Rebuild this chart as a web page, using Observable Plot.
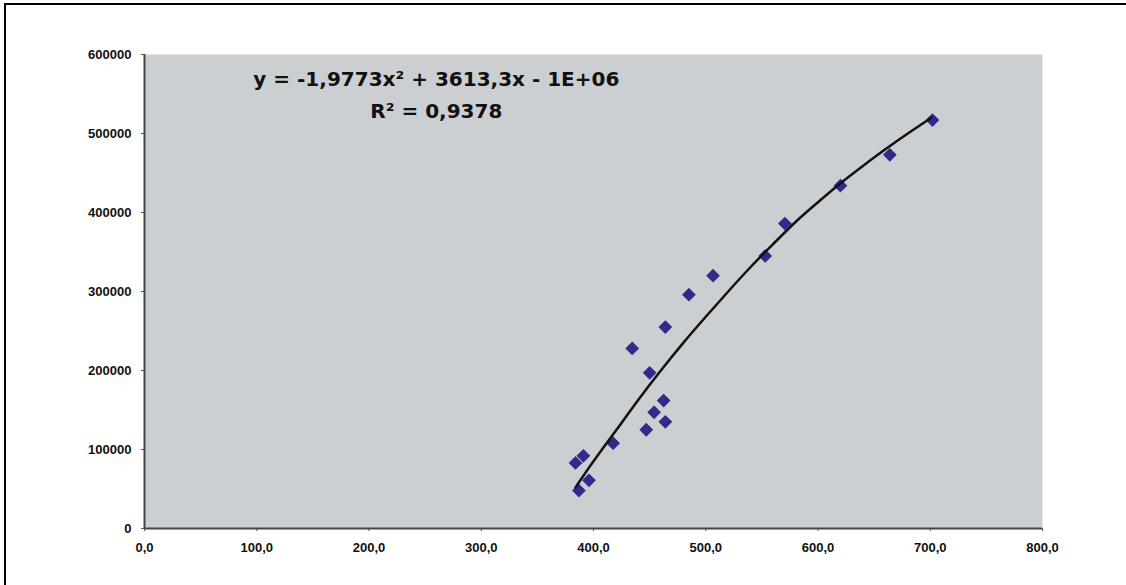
<!DOCTYPE html>
<html>
<head>
<meta charset="utf-8">
<script src="https://cdn.jsdelivr.net/npm/d3@7"></script>
<script src="https://cdn.jsdelivr.net/npm/@observablehq/plot@0.6"></script>
<style>
  html, body { margin: 0; padding: 0; background: #fff; }
  #wrap { position: relative; width: 1126px; height: 585px; overflow: hidden; }
  #border { position: absolute; left: 4px; top: 3px; width: 1200px; height: 700px;
            border-left: 2px solid #000; border-top: 2px solid #000; pointer-events: none; }
  #chart { position: absolute; left: 0; top: 0; }
</style>
</head>
<body>
<div id="wrap"><div id="chart"></div><div id="border"></div></div>
<script>
// Observed data points (x, y)
const pointX = [387, 396, 384, 391, 417.5, 447, 464, 454, 462.5, 450, 434.5, 464, 485, 506.5, 553, 570.5, 620, 664, 702];
const pointY = [48000, 61000, 83000, 92000, 108000, 125000, 135000, 147000, 162000, 197000, 228000, 255000, 296000, 320000, 345000, 386000, 434000, 473000, 517000];

// Polynomial trend line
const trendX = [384, 400, 420, 440, 460, 480, 500, 520, 540, 560, 580, 600, 620, 640, 660, 680, 701];
const trendY = [52000, 85000, 124000, 163000, 200000, 235000, 268000, 300000, 331000, 360000, 388000, 413000, 437000, 459000, 480000, 500000, 520000];

// Axis ticks and labels
const xTicks = [0, 100, 200, 300, 400, 500, 600, 700, 800];
const xTickLabels = ["0,0", "100,0", "200,0", "300,0", "400,0", "500,0", "600,0", "700,0", "800,0"];
const yTicks = [0, 100000, 200000, 300000, 400000, 500000, 600000];
const yTickLabels = ["0", "100000", "200000", "300000", "400000", "500000", "600000"];

// Trend-line equation annotation
const eqLines = ["y = -1,9773x² + 3613,3x - 1E+06", "R² = 0,9378"];

const points = pointX.map((x, i) => ({x, y: pointY[i]}));
const trend = trendX.map((x, i) => ({x, y: trendY[i]}));
const eqAnchorX = 260;
const eqAnchorY = [568500, 527500];
const eqData = eqLines.map((t, i) => ({t, x: eqAnchorX, y: eqAnchorY[i]}));

const chart = Plot.plot({
  width: 1126,
  height: 585,
  marginLeft: 144,
  marginRight: 84,
  marginTop: 54,
  marginBottom: 57,
  x: {domain: [0, 800]},
  y: {domain: [0, 600000]},
  style: {fontFamily: "'Liberation Sans', Arial, sans-serif", fontSize: "13px", fontWeight: "bold", color: "#111", background: "transparent"},
  marks: [
    Plot.frame({fill: "#cbcfd2", stroke: null}),
    Plot.axisY({ticks: yTicks, tickFormat: (d) => yTickLabels[yTicks.indexOf(d)], tickSize: 3, tickPadding: 10, label: null, stroke: "#555"}),
    Plot.axisX({ticks: xTicks, tickFormat: (d) => xTickLabels[xTicks.indexOf(d)], tickSize: 3, tickPadding: 11, label: null, stroke: "#555"}),
    Plot.ruleX([0], {stroke: "#454545", strokeWidth: 2}),
    Plot.ruleY([0], {stroke: "#454545", strokeWidth: 2}),
    Plot.dot(points, {x: "x", y: "y", symbol: "diamond2", r: 6.2, fill: "#2f2b88", stroke: null}),
    Plot.line(trend, {x: "x", y: "y", stroke: "#111", strokeWidth: 2.5, curve: "natural"}),
    Plot.text(eqData, {x: "x", y: "y", text: "t", fontSize: 20, fontWeight: "bold", fontFamily: "'DejaVu Sans', sans-serif", fill: "#111"})
  ]
});
document.getElementById("chart").appendChild(chart);
</script>
</body>
</html>
